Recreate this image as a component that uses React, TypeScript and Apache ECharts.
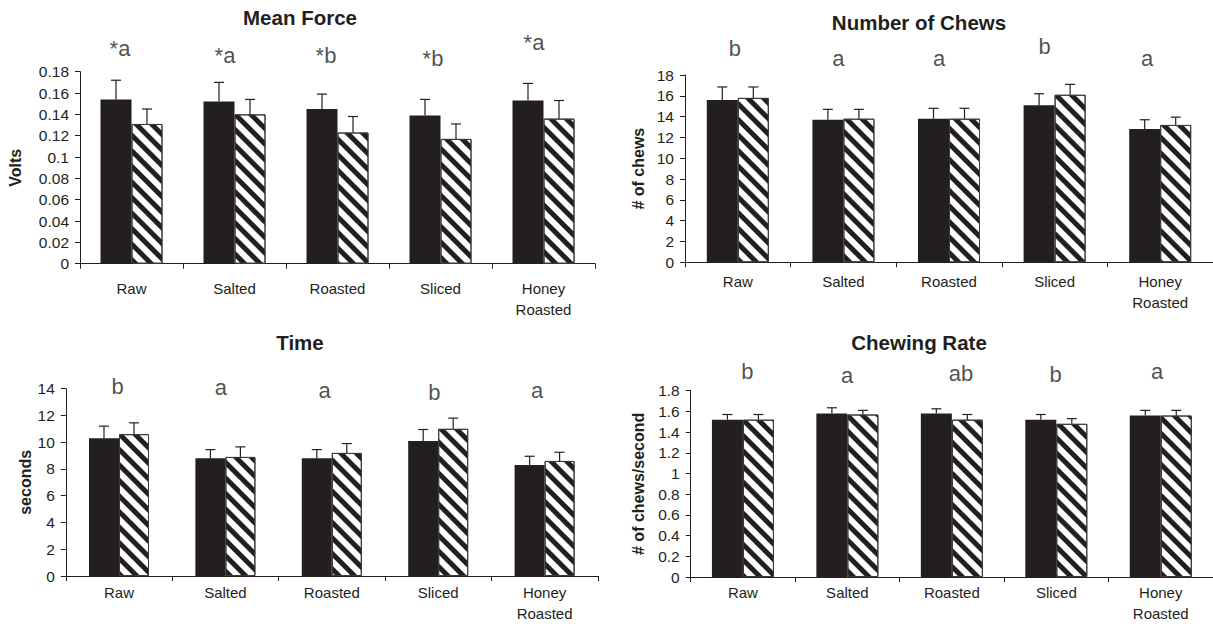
import React, { useEffect, useRef } from 'react';
import * as echarts from 'echarts';

const categories = ['Raw', 'Salted', 'Roasted', 'Sliced', 'Honey\nRoasted'];

// Mean Force (Volts)
const meanForceBlack = [0.154, 0.152, 0.145, 0.139, 0.153];
const meanForceBlackErr = [0.018, 0.018, 0.014, 0.015, 0.016];
const meanForceHatch = [0.131, 0.140, 0.123, 0.117, 0.136];
const meanForceHatchErr = [0.014, 0.014, 0.015, 0.014, 0.017];
const meanForceLetters = ['*a', '*a', '*b', '*b', '*a'];
const meanForceLetterY = [0.1941, 0.1884, 0.1879, 0.1856, 0.1997];

// Number of Chews
const chewsBlack = [15.6, 13.7, 13.8, 15.1, 12.8];
const chewsBlackErr = [1.25, 1.0, 1.0, 1.1, 0.9];
const chewsHatch = [15.8, 13.8, 13.8, 16.1, 13.2];
const chewsHatchErr = [1.05, 0.9, 1.0, 1.0, 0.75];
const chewsLetters = ['b', 'a', 'a', 'b', 'a'];
const chewsLetterY = [19.76, 18.89, 18.89, 19.99, 18.89];

// Time (seconds)
const timeBlack = [10.3, 8.8, 8.8, 10.1, 8.3];
const timeBlackErr = [0.9, 0.65, 0.65, 0.85, 0.65];
const timeHatch = [10.6, 8.9, 9.2, 11.0, 8.6];
const timeHatchErr = [0.85, 0.75, 0.7, 0.8, 0.65];
const timeLetters = ['b', 'a', 'a', 'b', 'a'];
const timeLetterY = [13.61, 13.53, 13.29, 13.11, 13.26];

// Chewing Rate
const rateBlack = [1.52, 1.58, 1.58, 1.52, 1.56];
const rateBlackErr = [0.05, 0.055, 0.045, 0.05, 0.05];
const rateHatch = [1.52, 1.57, 1.52, 1.48, 1.56];
const rateHatchErr = [0.05, 0.04, 0.05, 0.05, 0.05];
const rateLetters = ['b', 'a', 'ab', 'b', 'a'];
const rateLetterY = [1.913, 1.877, 1.887, 1.881, 1.913];

const FONT = '"Liberation Sans", Arial, Helvetica, sans-serif';
const INK = '#231f20';

type Panel = {
  title: string;
  titleX: number;
  titleY: number;
  grid: { left: number; top: number; width: number; height: number };
  yMax: number;
  yInterval: number;
  yName: string;
  nameGap: number;
  xLabelMargin: number;
  barWidth: number;
  black: number[];
  blackErr: number[];
  hatch: number[];
  hatchErr: number[];
  letters: string[];
  letterY: number[];
  letterDx: number[];
};

const panels: Panel[] = [
  {
    title: 'Mean Force', titleX: 300, titleY: 17,
    grid: { left: 80, top: 71.7, width: 515, height: 192 },
    yMax: 0.18, yInterval: 0.02, yName: 'Volts', nameGap: 57, xLabelMargin: 14, barWidth: 31,
    black: meanForceBlack, blackErr: meanForceBlackErr, hatch: meanForceHatch, hatchErr: meanForceHatchErr,
    letters: meanForceLetters, letterY: meanForceLetterY, letterDx: [-11.5, -9.5, -11.5, -7.5, -9.5],
  },
  {
    title: 'Number of Chews', titleX: 919, titleY: 22,
    grid: { left: 685, top: 75, width: 533, height: 187.3 },
    yMax: 18, yInterval: 2, yName: '# of chews', nameGap: 39, xLabelMargin: 9, barWidth: 31,
    black: chewsBlack, blackErr: chewsBlackErr, hatch: chewsHatch, hatchErr: chewsHatchErr,
    letters: chewsLetters, letterY: chewsLetterY, letterDx: [-3, -5, -10, -10, -13],
  },
  {
    title: 'Time', titleX: 300, titleY: 342,
    grid: { left: 65.8, top: 388.7, width: 532, height: 188.3 },
    yMax: 14, yInterval: 2, yName: 'seconds', nameGap: 31, xLabelMargin: 6, barWidth: 30,
    black: timeBlack, blackErr: timeBlackErr, hatch: timeHatch, hatchErr: timeHatchErr,
    letters: timeLetters, letterY: timeLetterY, letterDx: [-1.5, -4.6, -7.3, -3.8, -7.6],
  },
  {
    title: 'Chewing Rate', titleX: 919, titleY: 342,
    grid: { left: 690.7, top: 390.7, width: 527.5, height: 187 },
    yMax: 1.8, yInterval: 0.2, yName: '# of chews/second', nameGap: 44, xLabelMargin: 5, barWidth: 31,
    black: rateBlack, blackErr: rateBlackErr, hatch: rateHatch, hatchErr: rateHatchErr,
    letters: rateLetters, letterY: rateLetterY, letterDx: [4.4, -0.3, 9.2, -0.7, -3.6],
  },
];

function errorSeries(idx: number, barIdx: number, vals: number[], errs: number[], barWidth: number) {
  return {
    type: 'custom',
    xAxisIndex: idx,
    yAxisIndex: idx,
    z: 5,
    silent: true,
    data: vals.map((v, k) => [k, v, errs[k]]),
    encode: { x: 0, y: 1 },
    renderItem: (params: any, api: any) => {
      const k = api.value(0);
      const v = api.value(1);
      const e = api.value(2);
      const layout = api.barLayout({ count: 2, barWidth, barGap: '0%' });
      const off = layout[barIdx].offsetCenter;
      const p0 = api.coord([k, v]);
      const p1 = api.coord([k, v + e]);
      const x = p0[0] + off;
      const style = { stroke: INK, lineWidth: 1.2 };
      return {
        type: 'group',
        children: [
          { type: 'line', shape: { x1: x, y1: p0[1], x2: x, y2: p1[1] }, style },
          { type: 'line', shape: { x1: x - 5, y1: p1[1], x2: x + 5, y2: p1[1] }, style },
        ],
      };
    },
  };
}

function buildOption() {
  const grid: any[] = [];
  const xAxis: any[] = [];
  const yAxis: any[] = [];
  const series: any[] = [];
  const graphic: any[] = [];

  panels.forEach((p, i) => {
    grid.push({ ...p.grid, containLabel: false });
    xAxis.push({
      type: 'category',
      gridIndex: i,
      data: categories,
      axisLine: { show: true, lineStyle: { color: INK, width: 1 } },
      axisTick: { show: true, length: 5, lineStyle: { color: INK } },
      axisLabel: {
        margin: p.xLabelMargin,
        fontFamily: FONT,
        fontSize: 15,
        color: INK,
        lineHeight: 21,
        interval: 0,
      },
      splitLine: { show: false },
    });
    yAxis.push({
      type: 'value',
      gridIndex: i,
      min: 0,
      max: p.yMax,
      interval: p.yInterval,
      name: p.yName,
      nameLocation: 'middle',
      nameGap: p.nameGap,
      nameTextStyle: { fontFamily: FONT, fontSize: 16, fontWeight: 'bold', color: INK, lineHeight: 16 },
      axisLine: { show: true, lineStyle: { color: INK, width: 1 } },
      axisTick: { show: true, length: 5, lineStyle: { color: INK } },
      axisLabel: { margin: 11, fontFamily: FONT, fontSize: 15.5, color: INK },
      splitLine: { show: false },
    });
    series.push({
      type: 'bar',
      name: p.title + ' A',
      xAxisIndex: i,
      yAxisIndex: i,
      data: p.black,
      barWidth: p.barWidth,
      barGap: '0%',
      itemStyle: { color: INK },
    });
    series.push({
      type: 'bar',
      name: p.title + ' B',
      xAxisIndex: i,
      yAxisIndex: i,
      data: p.hatch,
      barWidth: p.barWidth,
      barGap: '0%',
      itemStyle: {
        color: '#ffffff',
        borderColor: '#3a3a3a',
        borderWidth: 1,
        decal: {
          symbol: 'rect',
          symbolSize: 1,
          dashArrayX: [1, 0],
          dashArrayY: [5, 5.6],
          rotation: Math.PI / 4,
          color: INK,
        },
      },
    });
    series.push(errorSeries(i, 0, p.black, p.blackErr, p.barWidth));
    series.push(errorSeries(i, 1, p.hatch, p.hatchErr, p.barWidth));
    series.push({
      type: 'scatter',
      xAxisIndex: i,
      yAxisIndex: i,
      clip: false,
      silent: true,
      symbolSize: 0,
      data: p.letters.map((t, k) => ({
        value: [k, p.letterY[k]],
        name: t,
        label: { offset: [p.letterDx[k], -7.7] },
      })),
      label: {
        show: true,
        position: 'inside',
        formatter: '{b}',
        fontFamily: FONT,
        fontSize: 22,
        color: INK,
      },
    });
    graphic.push({
      type: 'text',
      x: p.titleX,
      y: p.titleY,
      style: {
        text: p.title,
        align: 'center',
        verticalAlign: 'middle',
        fontFamily: FONT,
        fontSize: 20.5,
        fontWeight: 'bold',
        fill: INK,
      },
    });
  });

  return {
    animation: false,
    backgroundColor: '#ffffff',
    grid,
    xAxis,
    yAxis,
    series,
    graphic,
  };
}

export default function App() {
  const ref = useRef<HTMLDivElement>(null);
  useEffect(() => {
    if (!ref.current) return;
    const chart = echarts.init(ref.current, undefined, { renderer: 'svg' });
    chart.setOption(buildOption() as any);
    return () => chart.dispose();
  }, []);
  return (
    <div
      ref={ref}
      style={{ position: 'absolute', left: 0, top: 0, width: 1213, height: 624, background: '#fff' }}
    />
  );
}
